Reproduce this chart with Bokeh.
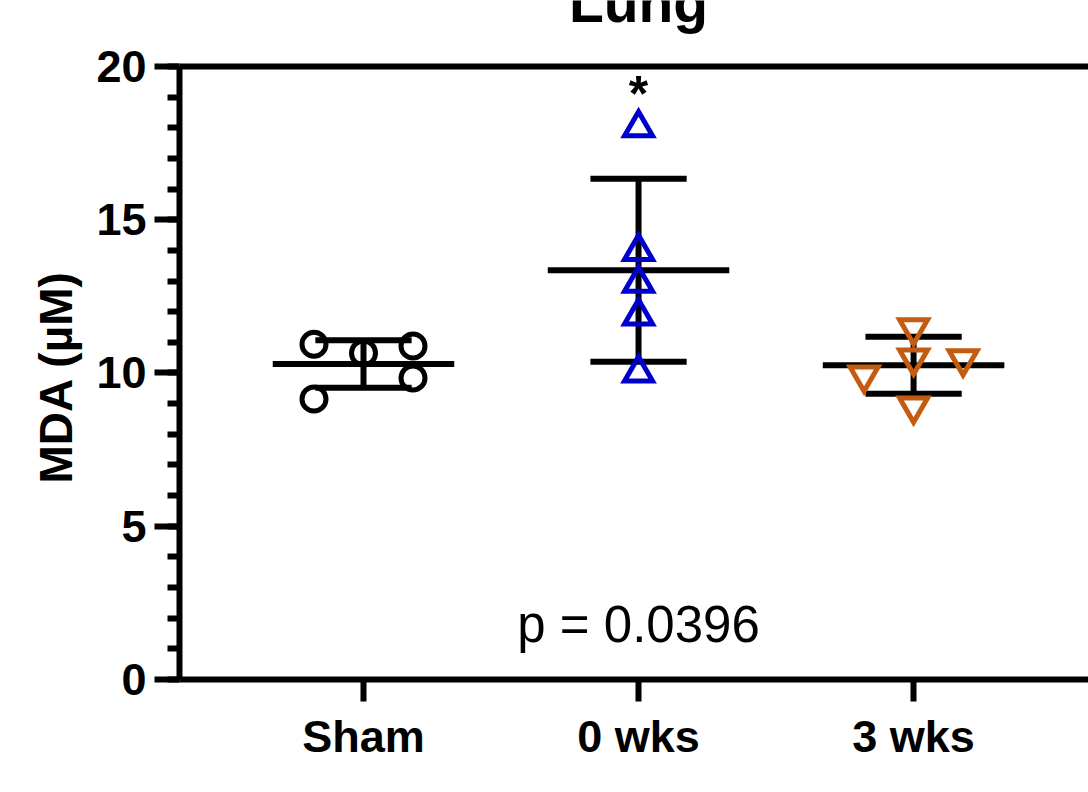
from bokeh.plotting import figure
from bokeh.models import Range1d, FixedTicker, SingleIntervalTicker, Span, Title
from bokeh.core.properties import value
from bokeh.embed import file_html
from bokeh.resources import INLINE
import numpy as np

# Lung MDA concentrations (µM) per group
categories = ["Sham", "0 wks", "3 wks"]
sham = [10.94, 10.65, 10.88, 9.84, 9.15]
wks0 = [18.0, 13.97, 12.93, 11.86, 10.0]
wks3 = [11.47, 10.49, 10.46, 9.93, 8.92]
y_min, y_max = 0, 20
y_label = "MDA (µM)"
p_text = "p = 0.0396"
title_text = "Lung"

# horizontal scatter offsets (in category widths) so points don't overlap
sham_jitter = [-0.18, 0.0, 0.18, 0.18, -0.18]
wks0_jitter = [0.0, 0.0, 0.0, 0.0, 0.0]
wks3_jitter = [0.0, 0.0, 0.18, -0.18, 0.0]

FONT = "Liberation Sans"
BLUE = "#0000CC"
ORANGE = "#C55A11"

# the frame runs to the top of the canvas so the title can sit above the box;
# the axis itself is bounded to 0..20
p = figure(width=1088, height=792, output_backend="svg", toolbar_location=None,
           x_range=Range1d(0.331, 3.636), y_range=Range1d(y_min, 22.153),
           min_border_left=179, min_border_right=0, min_border_top=0,
           min_border_bottom=113)
p.outline_line_color = None
p.xgrid.visible = False
p.ygrid.visible = False
p.background_fill_color = "white"
p.border_fill_color = "white"

# y axis
ya = p.yaxis[0]
ya.bounds = (y_min, y_max)
ya.ticker = SingleIntervalTicker(interval=5, num_minor_ticks=5)
ya.axis_line_width = 6
ya.major_tick_line_width = 6
ya.minor_tick_line_width = 6
ya.major_tick_out = 25
ya.major_tick_in = 0
ya.minor_tick_out = 12
ya.minor_tick_in = 0
ya.major_label_text_font = FONT
ya.major_label_text_font_style = "bold"
ya.major_label_text_font_size = "45px"
ya.major_label_text_color = "black"
ya.major_label_standoff = 8

# y axis title, centred on the 0..20 span rather than the whole frame
p.add_layout(Title(text=y_label, align="left", offset=196, vertical_align="bottom",
                   standoff=23, text_font=FONT, text_font_style="bold",
                   text_font_size="46px", text_color="black"), "left")

# x axis
xa = p.xaxis[0]
xa.ticker = FixedTicker(ticks=[1, 2, 3])
xa.major_label_overrides = {i + 1: c for i, c in enumerate(categories)}
xa.axis_line_width = 6
xa.major_tick_line_width = 6
xa.major_tick_out = 22
xa.major_tick_in = 0
xa.minor_tick_out = 0
xa.minor_tick_in = 0
xa.major_label_text_font = FONT
xa.major_label_text_font_style = "bold"
xa.major_label_text_font_size = "45px"
xa.major_label_text_color = "black"
xa.major_label_standoff = 9

# top edge of the box
p.add_layout(Span(location=y_max, dimension="width", line_color="black", line_width=6))

groups = [
    (sham, sham_jitter, "circle", "black", 24),
    (wks0, wks0_jitter, "triangle", BLUE, 28),
    (wks3, wks3_jitter, "inverted_triangle", ORANGE, 28),
]

for i, (vals, jit, marker, color, size) in enumerate(groups):
    xc = i + 1
    v = np.array(vals)
    mean = v.mean()
    sd = v.std(ddof=1)
    # mean line and SD whiskers
    p.segment(x0=[xc - 0.33], x1=[xc + 0.33], y0=[mean], y1=[mean],
              line_color="black", line_width=6)
    p.segment(x0=[xc], x1=[xc], y0=[mean - sd], y1=[mean + sd],
              line_color="black", line_width=6)
    p.segment(x0=[xc - 0.175, xc - 0.175], x1=[xc + 0.175, xc + 0.175],
              y0=[mean - sd, mean + sd], y1=[mean - sd, mean + sd],
              line_color="black", line_width=6)
    # individual animals
    p.scatter(x=[xc + j for j in jit], y=vals, marker=marker, size=size,
              fill_color=None, line_color=color, line_width=5, line_join="miter")

# significance mark and p value
p.text(x=[2], y=[max(wks0) + 1.1], text=["*"], text_font=value(FONT),
       text_font_style="bold", text_font_size="50px", text_align="center",
       text_baseline="alphabetic", text_color="black")
p.text(x=[2], y=[1.8], text=[p_text], text_font=value(FONT),
       text_font_size="51px", text_align="center", text_baseline="alphabetic",
       text_color="black")

# panel title
p.text(x=[2], y=[22.12], text=[title_text], text_font=value(FONT),
       text_font_style="bold", text_font_size="57px", text_align="center",
       text_baseline="alphabetic", text_color="black")

open("out.html", "w").write(file_html(p, INLINE))
